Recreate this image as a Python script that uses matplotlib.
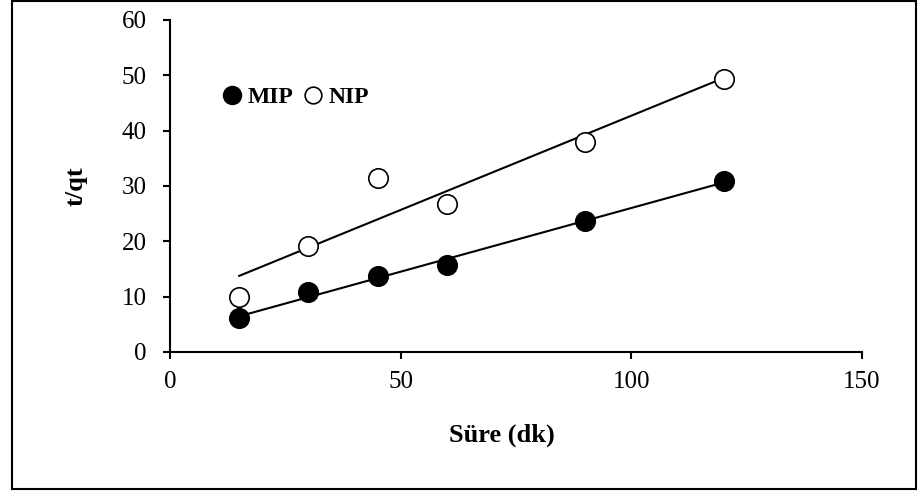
import matplotlib.pyplot as plt
import numpy as np
from matplotlib.patches import Rectangle
from matplotlib.lines import Line2D

plt.rcParams['font.family'] = ['Liberation Serif', 'DejaVu Serif']

# time (min) and t/qt values
sure = [15, 30, 45, 60, 90, 120]
mip = [6.1, 10.8, 13.7, 15.7, 23.7, 30.9]
nip = [9.9, 19.2, 31.4, 26.7, 38.0, 49.3]

fig = plt.figure(figsize=(9.18, 4.92), dpi=100)
ax = fig.add_axes([170/918, 140/492, 692/918, 332/492])

# outer border like the Excel chart area
fig.patches.append(Rectangle((12/918, 3/492), 904/918, 488/492, transform=fig.transFigure,
                             fill=False, edgecolor='black', linewidth=1.5))

x = np.array(sure)
for y, face in [(mip, 'black'), (nip, 'white')]:
    k, b = np.polyfit(x, y, 1)
    xs = np.array([x.min(), x.max()])
    ax.plot(xs, k * xs + b, color='black', linewidth=1.5, zorder=2)
    ax.plot(x, y, 'o', markersize=14, markerfacecolor=face, markeredgecolor='black',
            markeredgewidth=1.2, linestyle='none', zorder=3)

ax.set_xlim(0, 150)
ax.set_ylim(0, 60)
ax.set_xticks([0, 50, 100, 150])
ax.set_yticks(range(0, 61, 10))
for s in ['top', 'right']:
    ax.spines[s].set_visible(False)
for s in ['left', 'bottom']:
    ax.spines[s].set_linewidth(1.5)
ax.tick_params(direction='out', length=5, width=1.5, labelsize=18)
ax.tick_params(axis='x', pad=9)
ax.tick_params(axis='y', pad=12)

ax.set_xlabel('Süre (dk)', fontsize=19, fontweight='bold')
ax.xaxis.set_label_coords(0.48, -0.215)
ax.set_ylabel('t/qt', fontsize=19, fontweight='bold', labelpad=24)

handles = [
    Line2D([], [], marker='o', linestyle='none', markersize=13, markerfacecolor='black',
           markeredgecolor='black'),
    Line2D([], [], marker='o', linestyle='none', markersize=12, markerfacecolor='white',
           markeredgecolor='black', markeredgewidth=1.2),
]
leg = ax.legend(handles, ['MIP', 'NIP'], ncol=2, frameon=False, loc='center left',
                bbox_to_anchor=(0.074, 0.768), borderpad=0, borderaxespad=0,
                handlelength=0.9, handletextpad=0.2, columnspacing=0.4,
                prop={'weight': 'bold', 'size': 17})

fig.savefig('out.png', dpi=100)
